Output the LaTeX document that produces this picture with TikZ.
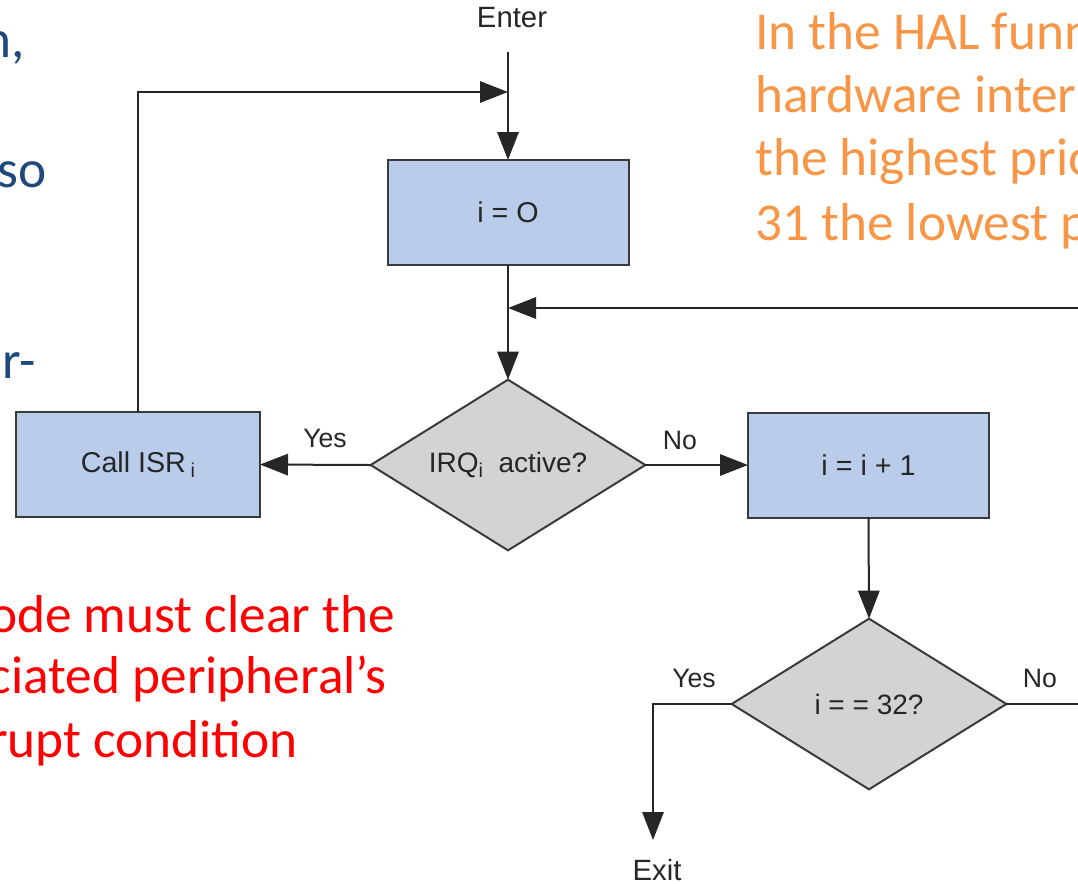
\documentclass[tikz,border=0pt]{standalone}
\usepackage{fontspec}
\setmainfont{Carlito}
\newfontfamily\diagfont{Liberation Sans}
\usetikzlibrary{shapes.geometric,arrows.meta}
\definecolor{boxblue}{HTML}{B9CDEA}
\definecolor{diagray}{HTML}{D1D3D4}
\definecolor{linegray}{HTML}{3A3A3A}
\definecolor{slideblue}{HTML}{1F497D}
\definecolor{slideorange}{HTML}{F79646}
\definecolor{slidered}{HTML}{FF0000}
\newcommand{\dsub}[1]{\raisebox{-0.35ex}{\fontsize{15}{15}\selectfont #1}}
\begin{document}
\begin{tikzpicture}[x=0.75pt,y=-0.75pt,
  proc/.style={draw=linegray, fill=boxblue, line width=1.5pt, minimum width=180.75pt, minimum height=78.75pt, inner sep=0pt, outer sep=0pt, font=\diagfont\fontsize{21.5}{24}\selectfont, text=black!85},
  dec/.style={diamond, aspect=1.6, draw=linegray, fill=diagray, line width=1.5pt, minimum width=206pt, minimum height=128pt, inner sep=0pt, outer sep=0pt, font=\diagfont\fontsize{21}{24}\selectfont, text=black!85},
  conn/.style={line width=1.5pt, draw=black!85, -{Triangle[length=21pt,width=16pt]}},
  plain/.style={line width=1.5pt, draw=black!85},
  lbl/.style={font=\diagfont\fontsize{20}{24}\selectfont, inner sep=0pt, text=black!85},
  term/.style={font=\diagfont\fontsize{22}{24}\selectfont, inner sep=0pt, text=black!85},
  slide/.style={font=\fontsize{40}{48}\selectfont, inner sep=0pt}]

\useasboundingbox (0,0) rectangle (1078,883);
\clip (0,0) rectangle (1078,883);

% slide texts
\node[slide, text=slideblue, anchor=base east] (b1) at (25,57) {n,};
\node[slide, text=slideblue, anchor=base east] (b2) at (47,187) {so};
\node[slide, text=slideblue, anchor=base east] (b3) at (36,378) {r-};
\node[slide, text=slideorange, anchor=base west] (o1) at (755,49) {In the HAL funn};
\node[slide, text=slideorange, anchor=base west] (o2) at (755,112) {hardware inter};
\node[slide, text=slideorange, anchor=base west] (o3) at (755,175) {the highest prio};
\node[slide, text=slideorange, anchor=base west] (o4) at (755,240) {31 the lowest p};
\node[slide, text=slidered, anchor=base east] (r1) at (395,632) {ode must clear the};
\node[slide, text=slidered, anchor=base east] (r2) at (387,693) {ciated peripheral’s};
\node[slide, text=slidered, anchor=base east] (r3) at (298,757) {rupt condition};

% flowchart nodes
\node[proc] (init) at (508,212.5) {i = O};
\node[dec] (irq) at (508,465) {IRQ\dsub{i}\ \ active?};
\node[proc, minimum width=183pt] (isr) at (138,464.5) {Call ISR\,\dsub{i}};
\node[proc] (inc) at (868.5,465) {i = i + 1};
\node[dec] (last) at (869,704) {i = = 32?};
\node[term] (enter) at (512,18) {Enter};
\node[term] (exit) at (657,870) {Exit};

\coordinate (entertop) at (508,52);
\coordinate (join1) at (508,92);
\coordinate (join2) at (508,308);
\coordinate (rightedge) at (1080,308);
\coordinate (exitcorner) at (653,704);
\coordinate (exitend) at (653,840);
\coordinate (noend) at (1080,704);

% connectors
\draw[conn] (entertop) -- (init.north);
\draw[conn] (isr.north) |- (join1);
\draw[conn] (init.south) -- (irq.north);
\draw[conn] (rightedge) -- (join2);
\draw[conn] (irq.west) -- (isr.east);
\draw[conn] (irq.east) -- (inc.west);
\draw[conn] (inc.south) -- (last.north);
\draw[conn] (last.west) -- (exitcorner) -- (exitend);
\draw[plain] (last.east) -- (noend);

% connector labels
\node[lbl] (yes1) at (325,438) {Yes};
\node[lbl] (no1) at (680,440) {No};
\node[lbl] (yes2) at (694,678) {Yes};
\node[lbl] (no2) at (1040,678) {No};
\end{tikzpicture}
\end{document}
